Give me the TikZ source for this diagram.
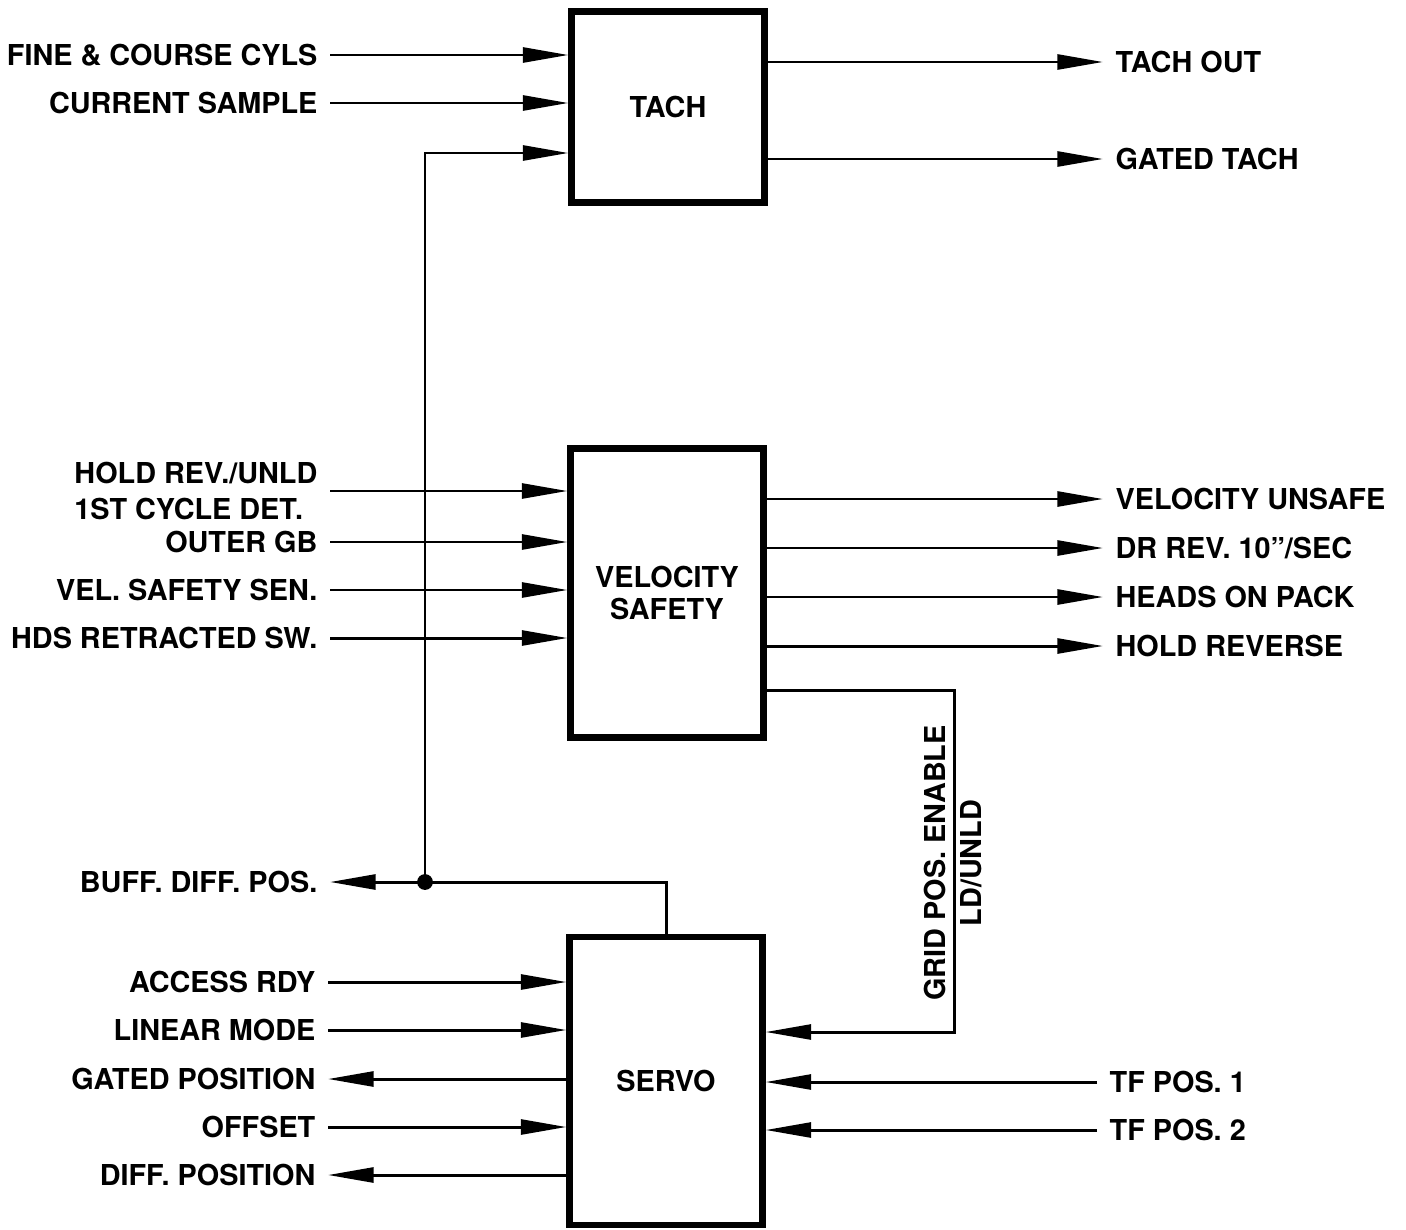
\documentclass[tikz,border=0pt]{standalone}
\usepackage{fontspec}
\setmainfont{TeX Gyre Heros}
\usetikzlibrary{arrows.meta, positioning}

\begin{document}
\begin{tikzpicture}[x=0.02cm, y=-0.02cm,
    every node/.style={font=\fontsize{16.4}{21}\selectfont\bfseries},
    blk/.style={draw, line width=3.5pt, minimum width=3.86cm, align=center, inner sep=0pt},
    sig/.style={line width=1.7pt, -{Triangle[length=26pt, width=8.5pt]}},
    inL/.style={anchor=east, inner sep=7pt, align=left},
    outR/.style={anchor=west, inner sep=7pt}]
    \useasboundingbox (0,0) rectangle (1406,1230);
    % blocks
    \node[blk, minimum height=3.82cm] (tach) at (668,107) {TACH};
    \node[blk, minimum height=5.78cm] (vel) at (667,593) {VELOCITY\\[-3pt]SAFETY};
    \node[blk, minimum height=5.76cm] (servo) at (666,1081) {SERVO};
    % tach in / out
    \foreach \n/\yy/\txt in {fcc/55/FINE \& COURSE CYLS, cs/103/CURRENT SAMPLE} {
        \node[inL] (\n) at (330,\yy) {\txt};
        \draw[sig] (\n.east) -- (\n.east -| tach.west);
    }
    \coordinate (tin) at (tach.west |- 0,153);
    \foreach \n/\yy/\txt in {tout/62/TACH OUT, gt/159/GATED TACH} {
        \node[outR] (\n) at (1103,\yy) {\txt};
        \draw[sig] (tach.east |- \n.west) -- (\n.west);
    }
    % velocity safety in / out
    \node[inL] (hold) at (330,491) {HOLD REV./UNLD\\1ST CYCLE DET.};
    \draw[sig] (hold.east) -- (hold.east -| vel.west);
    \foreach \n/\yy/\txt in {ogb/542/OUTER GB, vss/590/VEL. SAFETY SEN., hds/638/HDS RETRACTED SW.} {
        \node[inL] (\n) at (330,\yy) {\txt};
        \draw[sig] (\n.east) -- (\n.east -| vel.west);
    }
    \foreach \n/\yy/\txt in {vu/499/VELOCITY UNSAFE, dr/548/{DR REV. 10''/SEC}, hop/597/HEADS ON PACK, hr/646/HOLD REVERSE} {
        \node[outR] (\n) at (1103,\yy) {\txt};
        \draw[sig] (vel.east |- \n.west) -- (\n.west);
    }
    % grid pos. enable to servo
    \coordinate (g1) at (954,690);
    \coordinate (g2) at (954,1032);
    \draw[sig] (vel.east |- g1) -- (g1) -- (g2) -- (servo.east |- g2);
    \node[rotate=90, align=center, inner sep=0pt] (grid) at (953,863) {GRID POS. ENABLE\\LD/UNLD};
    % buffered diff. position, fed back to tach
    \node[inL] (buff) at (330,882) {BUFF. DIFF. POS.};
    \coordinate (j) at (425,882);
    \draw[sig] (servo.north) |- (buff.east);
    \draw[sig] (j) |- (tin);
    \fill (j) circle[radius=4.5pt];
    % servo in / out
    \foreach \n/\yy/\txt in {ard/982/ACCESS RDY, lm/1030/LINEAR MODE, off/1127/OFFSET} {
        \node[inL] (\n) at (328,\yy) {\txt};
        \draw[sig] (\n.east) -- (\n.east -| servo.west);
    }
    \foreach \n/\yy/\txt in {gp/1079/GATED POSITION, dp/1175/DIFF. POSITION} {
        \node[inL] (\n) at (328,\yy) {\txt};
        \draw[sig] (servo.west |- \n.east) -- (\n.east);
    }
    \foreach \n/\yy/\txt in {tfa/1082/TF POS. 1, tfb/1130/TF POS. 2} {
        \node[outR] (\n) at (1097,\yy) {\txt};
        \draw[sig] (\n.west) -- (\n.west -| servo.east);
    }
\end{tikzpicture}
\end{document}
